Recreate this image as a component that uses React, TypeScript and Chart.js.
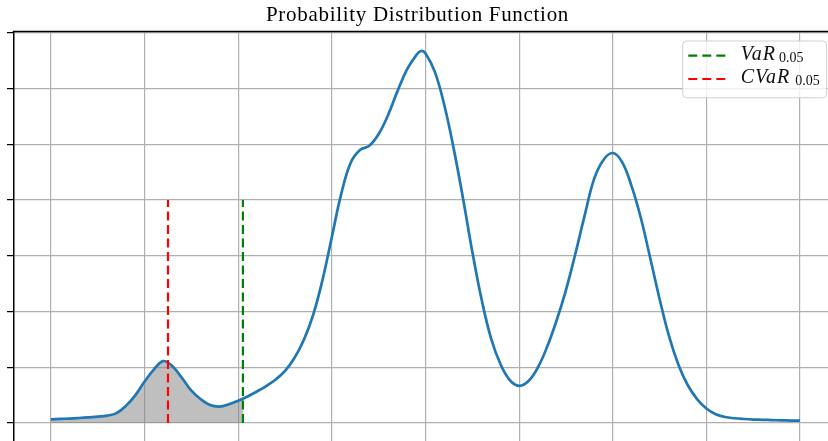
import React, { useEffect, useRef } from 'react';
import { Chart, registerables } from 'chart.js';

// Sample positions of the estimated density
const xs = [
  -4.0, -3.9, -3.8, -3.7, -3.6, -3.5, -3.4, -3.3, -3.2, -3.1,
  -3.0, -2.9, -2.8, -2.7, -2.6, -2.5, -2.4, -2.3, -2.2, -2.1,
  -2.0, -1.9, -1.8, -1.7, -1.6, -1.5, -1.4, -1.3, -1.2, -1.1,
  -1.0, -0.9, -0.8, -0.7, -0.6, -0.5, -0.4, -0.3, -0.2, -0.1,
  -0.05, 0.0, 0.1, 0.2, 0.3, 0.4, 0.5, 0.6, 0.7, 0.8, 0.9,
  1.0, 1.1, 1.2, 1.3, 1.4, 1.5, 1.6, 1.7, 1.8, 1.9,
  2.0, 2.1, 2.2, 2.3, 2.4, 2.5, 2.6, 2.7, 2.8, 2.9,
  3.0, 3.1, 3.2, 3.3, 3.4, 3.5, 3.6, 3.7, 3.8, 3.9, 4.0,
];

// Density value at each sample position
const density = [
  0.0033, 0.0037, 0.0040, 0.0045, 0.0051, 0.0057, 0.0066, 0.0089, 0.0154, 0.0248,
  0.0372, 0.0482, 0.0556, 0.0507, 0.0404, 0.0290, 0.0213, 0.0161, 0.0148, 0.0168,
  0.0200, 0.0238, 0.0283, 0.0332, 0.0390, 0.0467, 0.0583, 0.0745, 0.0969, 0.1283,
  0.1669, 0.2055, 0.2333, 0.2449, 0.2487, 0.2592, 0.2762, 0.2975, 0.3168, 0.3298,
  0.3337, 0.3315, 0.3150, 0.2855, 0.2466, 0.2018, 0.1537, 0.1105, 0.0760, 0.0530, 0.0385,
  0.0334, 0.0377, 0.0498, 0.0686, 0.0920, 0.1193, 0.1516, 0.1862, 0.2188, 0.2360,
  0.2422, 0.2341, 0.2127, 0.1839, 0.1480, 0.1113, 0.0781, 0.0525, 0.0341, 0.0215,
  0.0130, 0.0079, 0.0054, 0.0043, 0.0036, 0.0031, 0.0029, 0.0026, 0.0024, 0.0022, 0.0021,
];

// Risk measures at the 5% level
const VAR_X = -1.95;
const CVAR_X = -2.75;
const MARKER_TOP = 0.2;

const xTicks = [-4, -3, -2, -1, 0, 1, 2, 3, 4];
const yTicks = [0, 0.05, 0.1, 0.15, 0.2, 0.25, 0.3, 0.35];
const X_MIN = -4.4;
const X_MAX = 4.4;
const Y_MIN = -0.0163;
const Y_MAX = 0.3512;

const TITLE = 'Probability Distribution Function';
const legendItems = [
  { main: 'VaR', sub: '0.05', gap: 3, color: '#008000' },
  { main: 'CVaR', sub: '0.05', gap: 5, color: '#ff0000' },
];

const CANVAS_W = 860;
const CANVAS_H = 470;

const points = xs.map((x, i) => ({ x, y: density[i] }));

// Clip the shaded tail so it stops at the VaR level.
// Registered ahead of the built-in plugins so the clip is active
// when the filler paints the area of dataset 0.
const tailClip = {
  id: 'tailClip',
  beforeDatasetDraw(chart: any, args: any) {
    if (args.index !== 0) return;
    const { ctx, chartArea } = chart;
    const xr = chart.scales.x.getPixelForValue(VAR_X);
    ctx.save();
    ctx.beginPath();
    ctx.rect(chartArea.left, chartArea.top, xr - chartArea.left, chartArea.bottom - chartArea.top);
    ctx.clip();
  },
  afterDatasetDraw(chart: any, args: any) {
    if (args.index !== 0) return;
    chart.ctx.restore();
  },
};

Chart.register(tailClip);
Chart.register(...registerables);

// Top spine, title and the math-style legend
const decorations = {
  id: 'decorations',
  afterDraw(chart: any) {
    const { ctx, chartArea } = chart;
    ctx.save();
    // top spine
    ctx.strokeStyle = '#000';
    ctx.lineWidth = 1.5;
    ctx.beginPath();
    ctx.moveTo(chartArea.left - 0.75, chartArea.top);
    ctx.lineTo(chartArea.right, chartArea.top);
    ctx.stroke();

    // title
    ctx.fillStyle = '#000';
    ctx.font = '21px "Liberation Serif", serif';
    (ctx as any).letterSpacing = '0.7px';
    ctx.textAlign = 'center';
    ctx.textBaseline = 'alphabetic';
    ctx.fillText(TITLE, 417.5, 21);
    (ctx as any).letterSpacing = '0px';

    // legend frame
    const boxW = 144;
    const boxH = 56.7;
    const bx = chartArea.right - 10.8 - boxW;
    const by = chartArea.top + 9.5;
    ctx.beginPath();
    ctx.roundRect(bx, by, boxW, boxH, 4);
    ctx.fillStyle = 'rgba(255,255,255,0.8)';
    ctx.fill();
    ctx.strokeStyle = 'rgba(204,204,204,0.9)';
    ctx.lineWidth = 1;
    ctx.stroke();

    ctx.textAlign = 'left';
    legendItems.forEach((item, i) => {
      const cy = by + 14.7 + i * 23.3;
      ctx.strokeStyle = item.color;
      ctx.lineWidth = 2.2;
      ctx.setLineDash([9, 5]);
      ctx.beginPath();
      ctx.moveTo(bx + 5.6, cy);
      ctx.lineTo(bx + 44, cy);
      ctx.stroke();
      ctx.setLineDash([]);

      const tx = bx + 58;
      ctx.fillStyle = '#111';
      ctx.font = 'italic 20px "Liberation Serif", serif';
      (ctx as any).letterSpacing = '1px';
      ctx.fillText(item.main, tx, cy + 3.8);
      const w = ctx.measureText(item.main).width;
      (ctx as any).letterSpacing = '0px';
      ctx.font = '14px "Liberation Serif", serif';
      ctx.fillText(item.sub, tx + w + item.gap, cy + 6.2);
    });
    ctx.restore();
  },
};

export default function App() {
  const canvasRef = useRef<HTMLCanvasElement | null>(null);

  useEffect(() => {
    if (!canvasRef.current) return;
    const chart = new Chart(canvasRef.current, {
      type: 'line',
      data: {
        datasets: [
          {
            data: points,
            borderWidth: 0,
            borderColor: 'rgba(0,0,0,0)',
            backgroundColor: 'rgba(128,128,128,0.5)',
            fill: 'origin',
            pointRadius: 0,
            tension: 0.4,
            order: 4,
          },
          {
            data: points,
            borderColor: '#1f77b4',
            borderWidth: 2.7,
            fill: false,
            pointRadius: 0,
            tension: 0.4,
            order: 3,
          },
          {
            data: [{ x: VAR_X, y: 0 }, { x: VAR_X, y: MARKER_TOP }],
            borderColor: '#008000',
            borderWidth: 2.2,
            borderDash: [9, 4.5],
            pointRadius: 0,
            fill: false,
            order: 2,
          },
          {
            data: [{ x: CVAR_X, y: 0 }, { x: CVAR_X, y: MARKER_TOP }],
            borderColor: '#ff0000',
            borderWidth: 2.2,
            borderDash: [9, 4.5],
            pointRadius: 0,
            fill: false,
            order: 1,
          },
        ],
      },
      options: {
        responsive: false,
        animation: false,
        events: [],
        layout: { padding: { left: 7, top: 31.5, right: CANVAS_W - 837.5, bottom: CANVAS_H - 441.2 } },
        plugins: {
          legend: { display: false },
          tooltip: { enabled: false },
          title: { display: false },
        },
        scales: {
          x: {
            type: 'linear',
            min: X_MIN,
            max: X_MAX,
            afterBuildTicks: (s: any) => {
              s.ticks = xTicks.map((v) => ({ value: v }));
            },
            ticks: { display: false },
            grid: { color: '#b0b0b0', lineWidth: 1.2, drawTicks: false },
            border: { display: true, color: '#000', width: 1.25 },
          },
          y: {
            type: 'linear',
            min: Y_MIN,
            max: Y_MAX,
            afterBuildTicks: (s: any) => {
              s.ticks = yTicks.map((v) => ({ value: v }));
            },
            ticks: { display: false },
            grid: {
              color: '#b0b0b0',
              lineWidth: 1.2,
              drawTicks: true,
              tickLength: 6.5,
              tickColor: '#000',
              tickWidth: 1.25,
            },
            border: { display: true, color: '#000', width: 1.5 },
          },
        },
      },
      plugins: [decorations],
    });
    return () => chart.destroy();
  }, []);

  return (
    <div
      style={{
        position: 'fixed',
        left: 0,
        top: 0,
        width: 828,
        height: 441,
        overflow: 'hidden',
        background: '#fff',
      }}
    >
      <canvas ref={canvasRef} width={CANVAS_W} height={CANVAS_H} style={{ display: 'block' }} />
    </div>
  );
}
